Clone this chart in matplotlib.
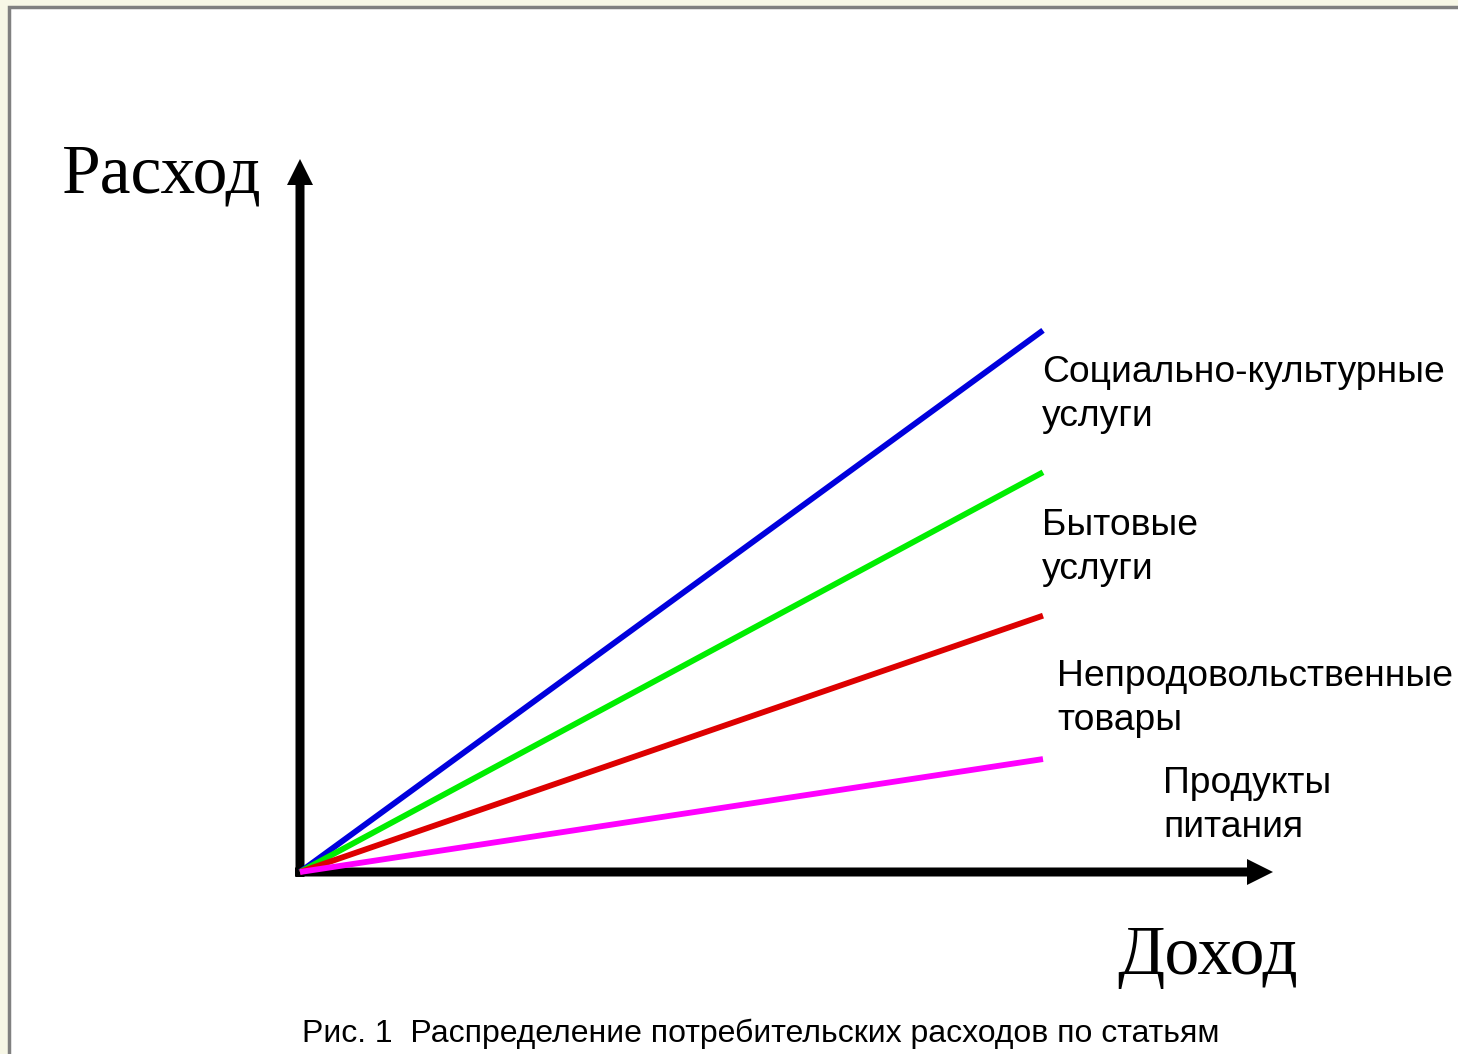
import matplotlib.pyplot as plt
from matplotlib.patches import Rectangle

# Данные: доход (ось X) и расходы по статьям в конце линий
dokhod = [0, 10]
statyi = ['Социально-культурные\nуслуги', 'Бытовые\nуслуги',
          'Непродовольственные\nтовары', 'Продукты\nпитания']
raskhod_konec = [7.29, 5.38, 3.45, 1.52]
cveta = ['#0000dd', '#00ee00', '#dd0000', '#ff00ff']

# Масштаб: 74.3 пикселя на единицу, начало координат в пикселе (300, 872)
px = 74.3
fig = plt.figure(figsize=(14.58, 10.54), dpi=100)
fig.patch.set_facecolor('#f7f7e6')
ax = fig.add_axes([0, 0, 1, 1])
ax.set_xlim(-300 / px, (1458 - 300) / px)
ax.set_ylim(-(1054 - 872) / px, 872 / px)
ax.axis('off')

# Белое поле с серой рамкой
ax.add_patch(Rectangle((-291 / px, -200 / px), 1500 / px, (200 + 865) / px,
                       facecolor='white', edgecolor='#808080', lw=2.5, zorder=0))

# Оси со стрелками
w, hw, hl = 9 / px, 26 / px, 26 / px
ax.arrow(0, -5 / px, 0, (872 - 159 + 5) / px, width=w, head_width=hw,
         head_length=hl, length_includes_head=True, color='black', lw=0, zorder=2)
ax.arrow(-5 / px, 0, (1273 - 300 + 5) / px, 0, width=w, head_width=hw,
         head_length=hl, length_includes_head=True, color='black', lw=0, zorder=2)

# Линии расходов
for y_end, c in zip(raskhod_konec, cveta):
    ax.plot(dokhod, [0, y_end], color=c, lw=4.2, solid_capstyle='butt', zorder=3)

# Подписи линий
pozicii = [(1042, 355), (1042, 508), (1057, 659), (1163, 766)]
for s, (x, y) in zip(statyi, pozicii):
    ax.text((x - 300) / px, (872 - y) / px, s, fontsize=26.8, family='Liberation Sans',
            ha='left', va='top', linespacing=1.33)

# Названия осей
ax.text((62 - 300) / px, (872 - 176) / px, 'Расход', fontsize=50,
        family='Liberation Serif', ha='left', va='center')
ax.text((1117 - 300) / px, (872 - 957) / px, 'Доход', fontsize=50,
        family='Liberation Serif', ha='left', va='center')

# Подпись рисунка
ax.text((302 - 300) / px, (872 - 1034) / px,
        'Рис. 1  Распределение потребительских расходов по статьям',
        fontsize=23, family='Liberation Sans', ha='left', va='center')

fig.savefig('out.png', dpi=100)
